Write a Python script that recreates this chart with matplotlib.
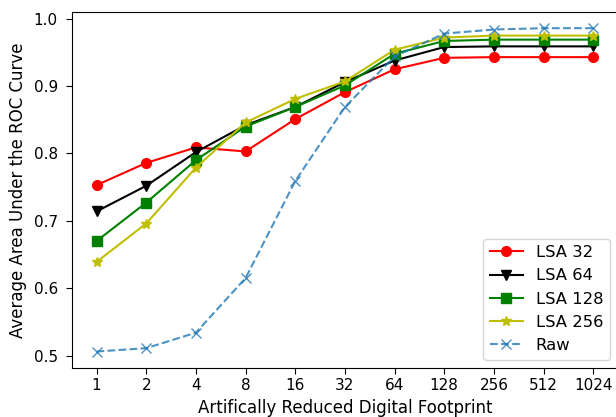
import numpy as np
import matplotlib
matplotlib.use("Agg")
import matplotlib.pyplot as plt

# footprint sizes on x axis
footprint = ['1', '2', '4', '8', '16', '32', '64', '128', '256', '512', '1024']

lsa_32 = [0.753, 0.786, 0.809, 0.803, 0.851, 0.891, 0.925, 0.942, 0.943, 0.943, 0.943]
lsa_64 = [0.714, 0.752, 0.802, 0.842, 0.869, 0.906, 0.938, 0.958, 0.959, 0.959, 0.959]
lsa_128 = [0.670, 0.727, 0.790, 0.840, 0.869, 0.901, 0.948, 0.967, 0.969, 0.969, 0.969]
lsa_256 = [0.639, 0.696, 0.779, 0.846, 0.881, 0.907, 0.954, 0.972, 0.975, 0.975, 0.975]
raw = [0.506, 0.511, 0.534, 0.615, 0.759, 0.869, 0.944, 0.978, 0.984, 0.986, 0.986]

x = np.arange(len(footprint))

fig = plt.figure(figsize=(6.16, 4.17), dpi=100)
# the right spine sits just outside the saved picture
ax = fig.add_axes([0.1164, 0.1182, 0.887, 0.853])

ms = 7
ax.plot(x, lsa_32, 'r-o', label='LSA 32', markersize=ms)
ax.plot(x, lsa_64, 'k-v', label='LSA 64', markersize=ms)
ax.plot(x, lsa_128, 'g-s', label='LSA 128', markersize=ms)
ax.plot(x, lsa_256, 'y-*', label='LSA 256', markersize=ms)
ax.plot(x, raw, '--x', color='#1f77b4', alpha=0.8, label='Raw', markersize=ms)

ax.set_xticks(x)
ax.set_xticklabels(footprint)
ax.set_yticks([0.5, 0.6, 0.7, 0.8, 0.9, 1.0])
ax.tick_params(labelsize=11, length=4)
ax.tick_params(axis='y', pad=6)
ax.set_xlabel('Artifically Reduced Digital Footprint', fontsize=12)
ax.set_ylabel('Average Area Under the ROC Curve', fontsize=12, labelpad=5)
ax.legend(loc='lower right', fontsize=11.8)

fig.savefig('out.png', dpi=100)
